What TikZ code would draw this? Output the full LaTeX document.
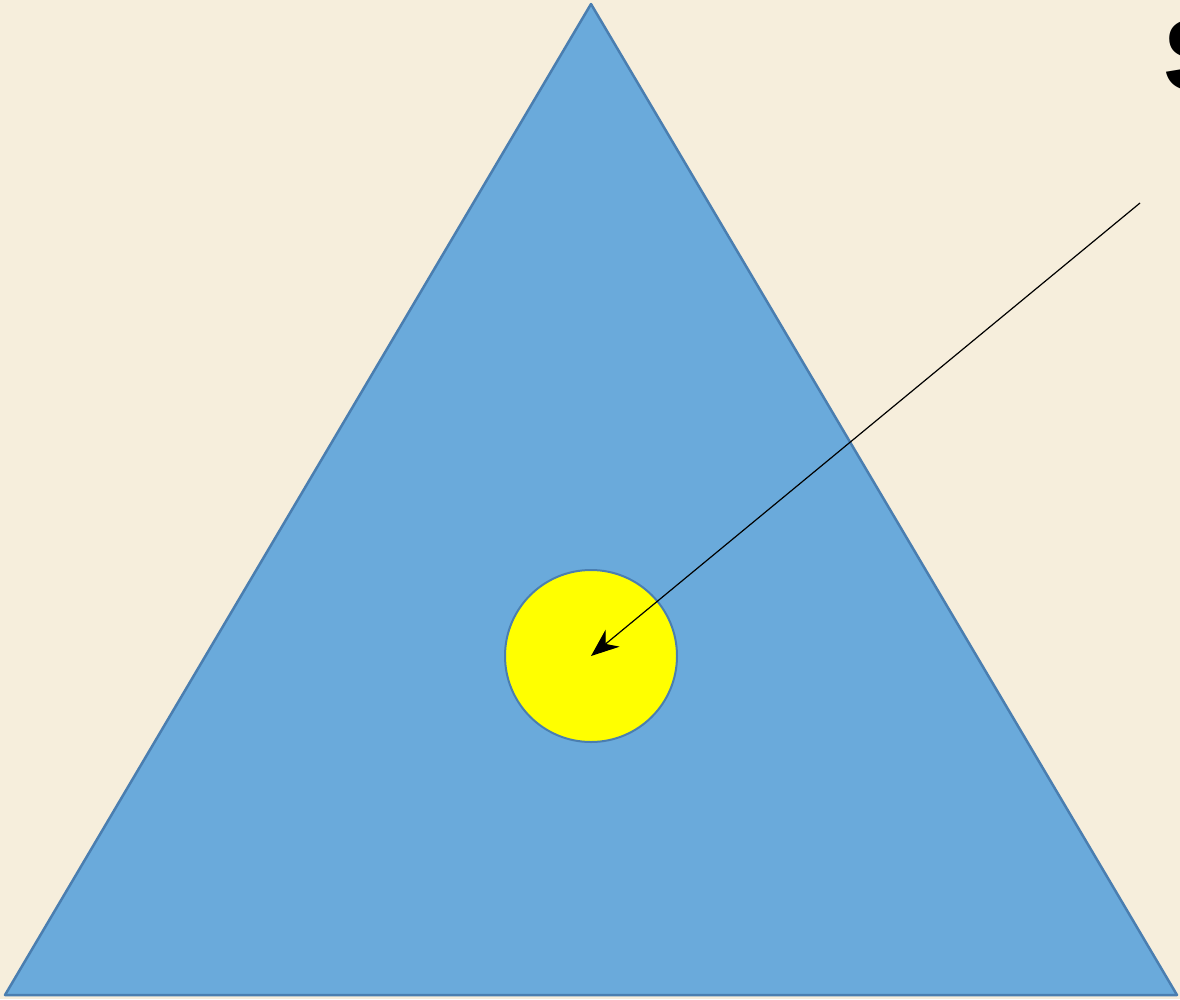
\documentclass[tikz,border=0pt]{standalone}
\usepackage{fontspec}
\setmainfont{Liberation Sans}
\usetikzlibrary{arrows.meta}
\definecolor{bg}{HTML}{F6EEDC}
\definecolor{tri}{HTML}{6AAADB}
\definecolor{edge}{HTML}{4A7EB0}
\definecolor{sun}{HTML}{FFFF00}
\tikzset{
  shape tri/.style={fill=tri,draw=edge,line width=2.5pt,line join=round},
  spot/.style={circle,fill=sun,draw=edge,line width=2pt,minimum size=172pt,inner sep=0pt},
  pointer/.style={draw=black,line width=1.2pt,-{Stealth[length=28pt,width=22pt,inset=9pt]}},
  title/.style={font=\fontsize{102}{110}\selectfont\bfseries,anchor=base west,inner sep=0pt}
}
\begin{document}
\begin{tikzpicture}[x=1pt,y=-1pt]
\useasboundingbox (0,0) rectangle (1180,999);
\fill[bg] (0,0) rectangle (1180,999);
\draw[shape tri] (591,4) -- (1177,995) -- (5,995) -- cycle;
\node[spot] (c) at (591,656) {};
\coordinate (start) at (1140,203);
\draw[pointer] (start) -- (c.center);
\node[title] (s) at (1163,90) {S};
\end{tikzpicture}
\end{document}
